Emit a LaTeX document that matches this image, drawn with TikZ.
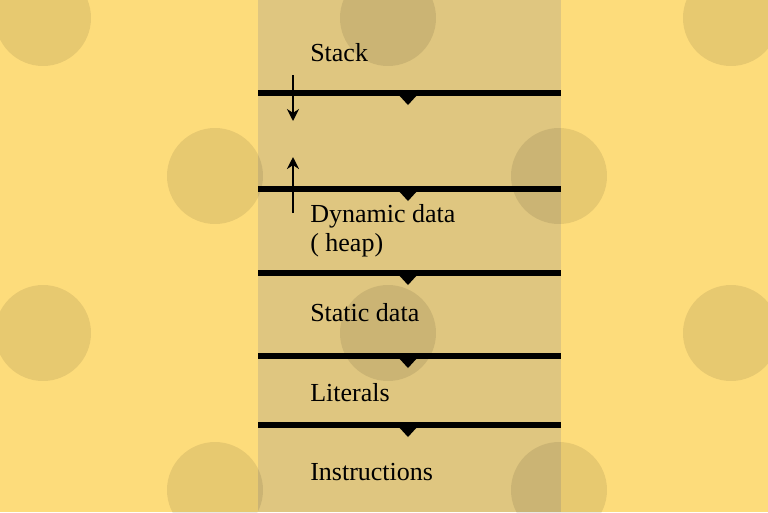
\documentclass[tikz,border=0pt]{standalone}
\usepackage{fontspec}
\setmainfont{Liberation Serif}
\usetikzlibrary{arrows.meta}
\definecolor{bg}{HTML}{FDDC7B}
\definecolor{col}{HTML}{DFC680}
\begin{document}
\begin{tikzpicture}[x=0.75pt,y=-0.75pt,
  dot/.style={fill=black,fill opacity=0.085},
  sep/.style={line width=4.5pt},
  lab/.style={anchor=west,font=\fontsize{19.5}{22}\selectfont,inner sep=0},
  arr/.style={line width=1.6pt,-{Stealth[length=9pt,width=9pt]}}]
\fill[bg] (0,0) rectangle (768,512);
\useasboundingbox (0,0) rectangle (768,512);
\fill[col] (258,0) rectangle (561,512);
\foreach \x/\y in {43/18,388/18,731/18,215/176,559/176,43/333,388/333,731/333,215/490,559/490}
  \fill[dot] (\x,\y) circle (48);
\foreach \y [count=\i] in {93,189,273,356,425}{
  \coordinate (l\i) at (258,\y); \coordinate (r\i) at (561,\y);
  \draw[sep] (l\i) -- (r\i);
  \fill (397,\y) -- (419,\y) -- (408,\y+12) -- cycle;}
\node[lab] (stack) at (310,53) {Stack};
\node[lab] (dyn) at (310,216) {Dynamic data};
\node[lab] (heap) at (310,245) {( heap)};
\node[lab] (stat) at (310,313) {Static data};
\node[lab] (lit) at (310,393) {Literals};
\node[lab] (ins) at (310,472) {Instructions};
\coordinate (d1) at (293,75); \coordinate (d2) at (293,121);
\coordinate (u1) at (293,213); \coordinate (u2) at (293,157);
\draw[arr] (d1) -- (d2);
\draw[arr] (u1) -- (u2);
\end{tikzpicture}
\end{document}
